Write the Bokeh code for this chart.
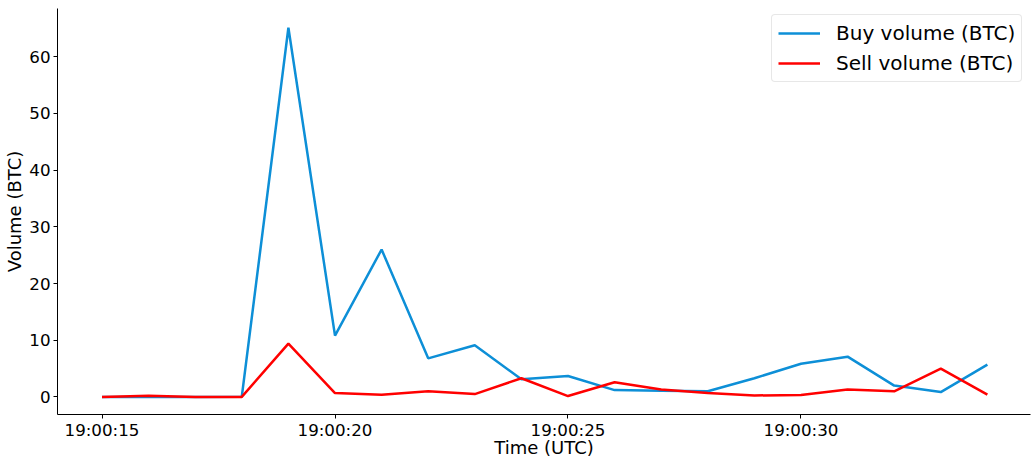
import pandas as pd
from bokeh.plotting import figure
from bokeh.models import ColumnDataSource, Range1d, FixedTicker, DatetimeTickFormatter, Legend, LegendItem
from bokeh.embed import file_html
from bokeh.resources import INLINE

times = ["19:00:15", "19:00:16", "19:00:17", "19:00:18", "19:00:19", "19:00:20", "19:00:21",
         "19:00:22", "19:00:23", "19:00:24", "19:00:25", "19:00:26", "19:00:27", "19:00:28",
         "19:00:29", "19:00:30", "19:00:31", "19:00:32", "19:00:33", "19:00:34"]
buy_volume = [0.0, 0.0, 0.0, 0.05, 65.1, 10.8, 26.0, 6.8, 9.1, 3.1, 3.7, 1.2, 1.1, 1.0,
              3.3, 5.85, 7.1, 2.0, 0.85, 5.7]
sell_volume = [0.0, 0.2, 0.0, 0.0, 9.4, 0.67, 0.4, 1.0, 0.5, 3.3, 0.15, 2.6, 1.3, 0.7,
               0.26, 0.33, 1.3, 1.0, 5.0, 0.4]
tick_labels = ["19:00:15", "19:00:20", "19:00:25", "19:00:30"]

day = "2024-01-01 "
t = pd.to_datetime([day + s for s in times])
src = ColumnDataSource(dict(t=t, buy=buy_volume, sell=sell_volume))

def ms(s):
    return pd.Timestamp(day + s).value / 1e6

t0 = ms(times[0])
sec = 1000.0

p = figure(width=1032, height=462, x_axis_type="datetime", output_backend="svg",
           toolbar_location=None, min_border_left=57, min_border_right=2,
           min_border_top=8, min_border_bottom=48)
p.x_range = Range1d(t0 - 0.955 * sec, t0 + 19.925 * sec)
p.y_range = Range1d(-3.1, 68.5)

buy_r = p.line("t", "buy", source=src, line_color="#0d8fd7", line_width=2.5)
sell_r = p.line("t", "sell", source=src, line_color="#ff0000", line_width=2.5)

p.xgrid.visible = False
p.ygrid.visible = False
p.outline_line_color = None
p.background_fill_color = "white"
p.border_fill_color = "white"

p.xaxis.ticker = FixedTicker(ticks=[ms(s) for s in tick_labels])
p.xaxis.formatter = DatetimeTickFormatter(seconds="%H:%M:%S", minsec="%H:%M:%S",
                                          minutes="%H:%M:%S", milliseconds="%H:%M:%S")
p.yaxis.ticker = FixedTicker(ticks=[0, 10, 20, 30, 40, 50, 60])

for ax in (p.xaxis[0], p.yaxis[0]):
    ax.axis_line_color = "black"
    ax.axis_line_width = 1
    ax.major_tick_line_color = "black"
    ax.major_tick_out = 4
    ax.major_tick_in = 0
    ax.minor_tick_line_color = None
    ax.major_label_text_font = "DejaVu Sans"
    ax.major_label_text_font_size = "16.7px"
    ax.major_label_text_color = "black"
    ax.axis_label_text_font = "DejaVu Sans"
    ax.axis_label_text_font_size = "18px"
    ax.axis_label_text_font_style = "normal"
    ax.axis_label_text_color = "black"

p.xaxis.axis_label = "Time (UTC)"
p.yaxis.axis_label = "Volume (BTC)"
p.xaxis.major_label_standoff = 1
p.xaxis.axis_label_standoff = -6
p.yaxis.major_label_standoff = 3
p.yaxis.axis_label_standoff = 1

legend = Legend(items=[LegendItem(label="Buy volume (BTC)", renderers=[buy_r]),
                       LegendItem(label="Sell volume (BTC)", renderers=[sell_r])],
                location=(714, 332), margin=0, padding=6, spacing=6,
                glyph_width=42, glyph_height=20, label_standoff=16, label_height=23,
                label_text_font="DejaVu Sans", label_text_font_size="20px",
                label_text_color="black",
                border_line_color="#d0d0d0", border_line_width=1, border_radius=4,
                background_fill_color="white", background_fill_alpha=0.8)
p.add_layout(legend)

open("out.html", "w").write(file_html(p, INLINE))
